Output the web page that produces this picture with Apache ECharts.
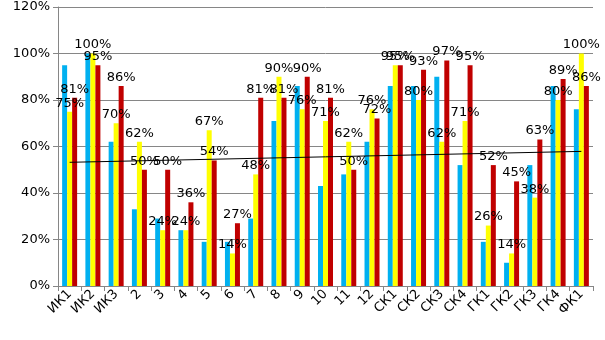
<!DOCTYPE html>
<html><head><meta charset="utf-8">
<script src="https://cdn.jsdelivr.net/npm/echarts@6/dist/echarts.min.js"></script>
<style>html,body{margin:0;padding:0;background:#fff}#c{width:605px;height:340px}</style>
</head><body><div id="c"></div>
<script>
const categories = ['ИК1','ИК2','ИК3','2','3','4','5','6','7','8','9','10','11','12','СК1','СК2','СК3','СК4','ГК1','ГК2','ГК3','ГК4','ФК1'];
const blueValues   = [95,100,62,33,29,24,19,19,29,71,86,43,48,62,86,86,90,52,19,10,52,86,76];
const yellowValues = [75,100,70,62,24,24,67,14,48,90,76,71,62,76,95,80,62,71,26,14,38,80,100];
const redValues    = [81,95,86,50,50,36,54,27,81,81,90,81,50,72,95,93,97,95,52,45,63,89,86];
const trendStart = 53.2, trendEnd = 57.9;
const yTicks = [0,20,40,60,80,100,120];

const trendValues = categories.map((c,i)=> i===0 ? trendStart : (i===categories.length-1 ? trendEnd : null));
const font = 'DejaVu Sans';
const chart = echarts.init(document.getElementById('c'), null, {renderer:'canvas'});
const lbl = {show:true, position:'top', distance:2, formatter:p=>p.value+'%', color:'#000', fontFamily:font, fontSize:13};
chart.setOption({
  animation:false,
  backgroundColor:'#fff',
  grid:{left:58, right:12, top:7, bottom:54, containLabel:false},
  xAxis:{type:'category', data:categories,
    axisLine:{lineStyle:{color:'#868686'}},
    axisTick:{show:true, length:5, lineStyle:{color:'#868686'}},
    axisLabel:{rotate:45, color:'#000', fontFamily:font, fontSize:13, margin:6, interval:0}},
  yAxis:{type:'value', min:yTicks[0], max:yTicks[yTicks.length-1], interval:20,
    axisLine:{show:true, lineStyle:{color:'#868686'}},
    axisTick:{show:true, length:5, lineStyle:{color:'#868686'}},
    splitLine:{lineStyle:{color:'#868686'}},
    axisLabel:{formatter:'{value}%', color:'#000', fontFamily:font, fontSize:13, margin:8}},
  series:[
    {type:'bar', data:blueValues, itemStyle:{color:'#00B0F0'}, barWidth:5, barGap:'0%'},
    {type:'bar', data:yellowValues, itemStyle:{color:'#FFFF00'}, barWidth:5, barGap:'0%', label:lbl},
    {type:'bar', data:redValues, itemStyle:{color:'#C00000'}, barWidth:5, barGap:'0%', label:lbl},
    {type:'line', data:trendValues, connectNulls:true, symbol:'none', lineStyle:{color:'#000', width:1}, z:10}
  ]
});
</script></body></html>
